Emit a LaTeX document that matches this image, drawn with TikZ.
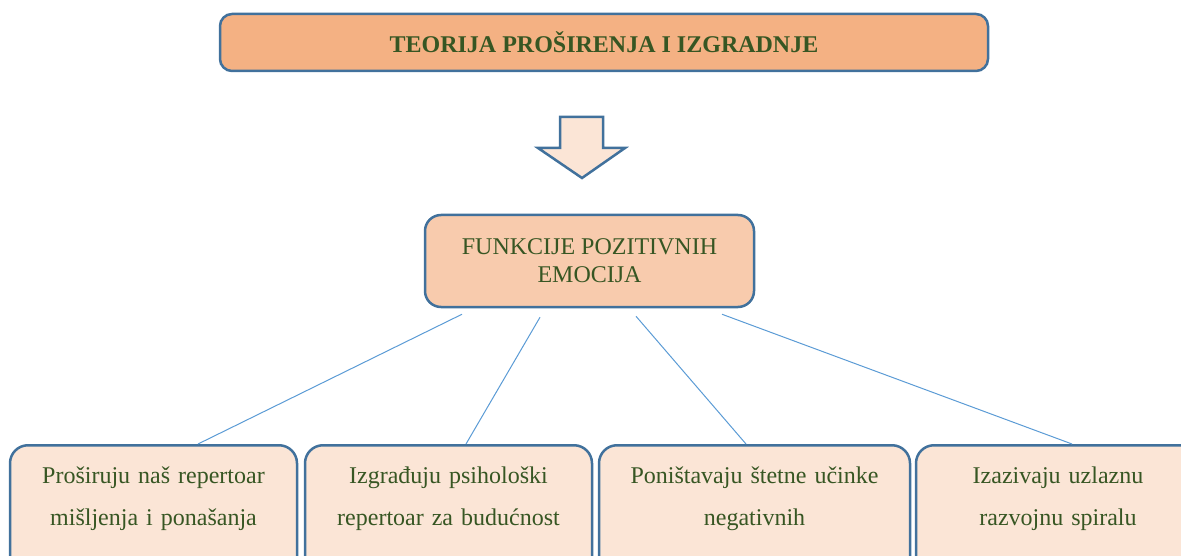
\documentclass[tikz,border=0pt]{standalone}
\usepackage{fontspec}
\setmainfont{Liberation Serif}
\usepackage{tikz}
\usetikzlibrary{calc}

\definecolor{rand}{HTML}{41719C}
\definecolor{linie}{HTML}{5B9BD5}
\definecolor{schrift}{HTML}{375623}
\definecolor{orange1}{HTML}{F4B183}
\definecolor{orange2}{HTML}{F8CBAD}
\definecolor{orange3}{HTML}{FBE5D6}

\tikzset{
  kasten/.style={draw=rand, line width=2.5pt, rounded corners=12pt, text=schrift, inner sep=6pt},
  unten/.style={kasten, fill=orange3, anchor=north, align=center, rounded corners=18pt,
    font=\fontsize{24}{42}\selectfont, text height=32pt, text depth=110pt},
  linie/.style={draw=linie, line width=1pt}
}

\begin{document}
\begin{tikzpicture}[x=1pt,y=-1pt]
\useasboundingbox (0,0) rectangle (1181,556);
\clip (0,0) rectangle (1181,556);

\node[kasten, fill=orange1, minimum width=768pt, minimum height=57pt,
  font=\fontsize{24}{28}\selectfont\bfseries] (teorija) at (604,42.5) {TEORIJA PROŠIRENJA I IZGRADNJE}; %Titel

\draw[draw=rand, line width=2.5pt, fill=orange3, line join=miter]
  (560,117)--(603,117)--(603,148)--(625,148)--(582,178)--(538,148)--(560,148)--cycle; %Pfeil

\node[kasten, fill=orange2, rounded corners=16pt, minimum width=329pt, minimum height=92pt,
  align=center, font=\fontsize{24}{28}\selectfont] (funkcije) at (589.5,261) {FUNKCIJE POZITIVNIH\\EMOCIJA};

%Kästen unten
\node[unten, text width=275pt] (b1) at (153.5,444) {Proširuju naš repertoar\\mišljenja i ponašanja};
\node[unten, text width=275pt] (b2) at (448.5,444) {Izgrađuju psihološki\\repertoar za budućnost};
\node[unten, text width=299pt] (b3) at (754.5,444) {Poništavaju štetne učinke\\negativnih};
\node[unten, text width=272pt] (b4) at (1058,444) {Izazivaju uzlaznu\\razvojnu spiralu};

%Linien
\draw[linie] ($(funkcije.south)+(-127.5,6)$) -- ([xshift=44.5pt]b1.north);
\draw[linie] ($(funkcije.south)+(-49.5,9)$) -- ([xshift=17.5pt]b2.north);
\draw[linie] ($(funkcije.south)+(46.5,8)$) -- ([xshift=-8.5pt]b3.north);
\draw[linie] ($(funkcije.south)+(132.5,6)$) -- ([xshift=14pt]b4.north);
\end{tikzpicture}
\end{document}
